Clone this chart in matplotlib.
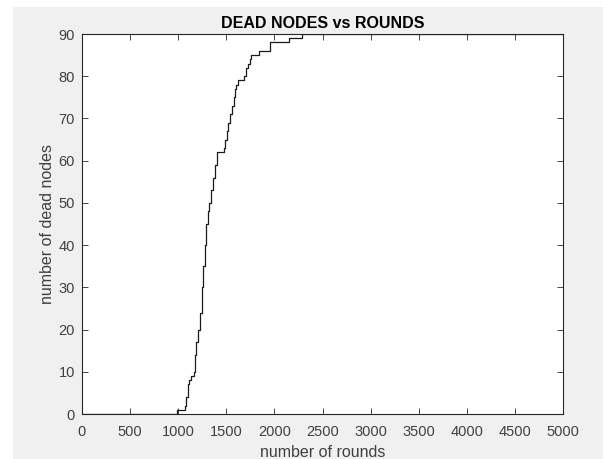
import numpy as np
import matplotlib.pyplot as plt
import matplotlib.patches as mpatches

# rounds at which the dead-node count changes (step curve)
rounds = [0, 984, 1071, 1085, 1100, 1115, 1130, 1160, 1175, 1190, 1210, 1230,
          1250, 1262, 1275, 1290, 1305, 1320, 1340, 1360, 1380, 1400, 1475,
          1490, 1505, 1520, 1540, 1555, 1575, 1590, 1605, 1620, 1685, 1700,
          1725, 1745, 1760, 1840, 1950, 2150, 2290, 5000]
dead = [0, 1, 2, 4, 7, 8, 9, 10, 14, 17, 20, 24,
        30, 35, 40, 45, 48, 50, 53, 56, 59, 62, 63,
        65, 67, 69, 71, 73, 75, 77, 78, 79, 80, 82,
        83, 84, 85, 86, 88, 89, 90, 90]

x_ticks = np.arange(0, 5001, 500)
y_ticks = np.arange(0, 91, 10)

BG = "#f0f0f0"
AXC = "#262626"
TXT = "#404040"

plt.rcParams['font.family'] = ['Liberation Sans', 'DejaVu Sans']

fig = plt.figure(figsize=(6.03, 4.59), dpi=100, facecolor="white")
# MATLAB 风格的灰色底
fig.add_artist(mpatches.Rectangle((13 / 603, 0), 1, 1 - 7 / 459,
                                  transform=fig.transFigure, facecolor=BG,
                                  edgecolor="none", zorder=-10))

ax = fig.add_axes([82 / 603, 1 - 414 / 459, 481 / 603, 380 / 459])
ax.set_facecolor("white")

ax.plot(rounds, dead, drawstyle="steps-post", color="#1a1a1a", linewidth=0.9)

ax.set_xlim(0, 5000)
ax.set_ylim(0, 90)
ax.set_xticks(x_ticks)
ax.set_yticks(y_ticks)
ax.tick_params(axis="both", direction="in", length=4, width=0.6, color=AXC,
               labelsize=10.5, labelcolor=TXT, top=True, right=True)
ax.tick_params(axis="x", pad=8)
ax.tick_params(axis="y", pad=5)
for spine in ax.spines.values():
    spine.set_edgecolor(AXC)
    spine.set_linewidth(0.8)

ax.set_xlabel("number of rounds", fontsize=11.5, color=TXT, labelpad=4)
ax.set_ylabel("number of dead nodes", fontsize=11.5, color=TXT, labelpad=3)
ax.set_title("DEAD NODES vs ROUNDS", fontsize=11.5, fontweight="bold",
             color="black", pad=4)

fig.savefig("out.png", dpi=100, facecolor="white")
